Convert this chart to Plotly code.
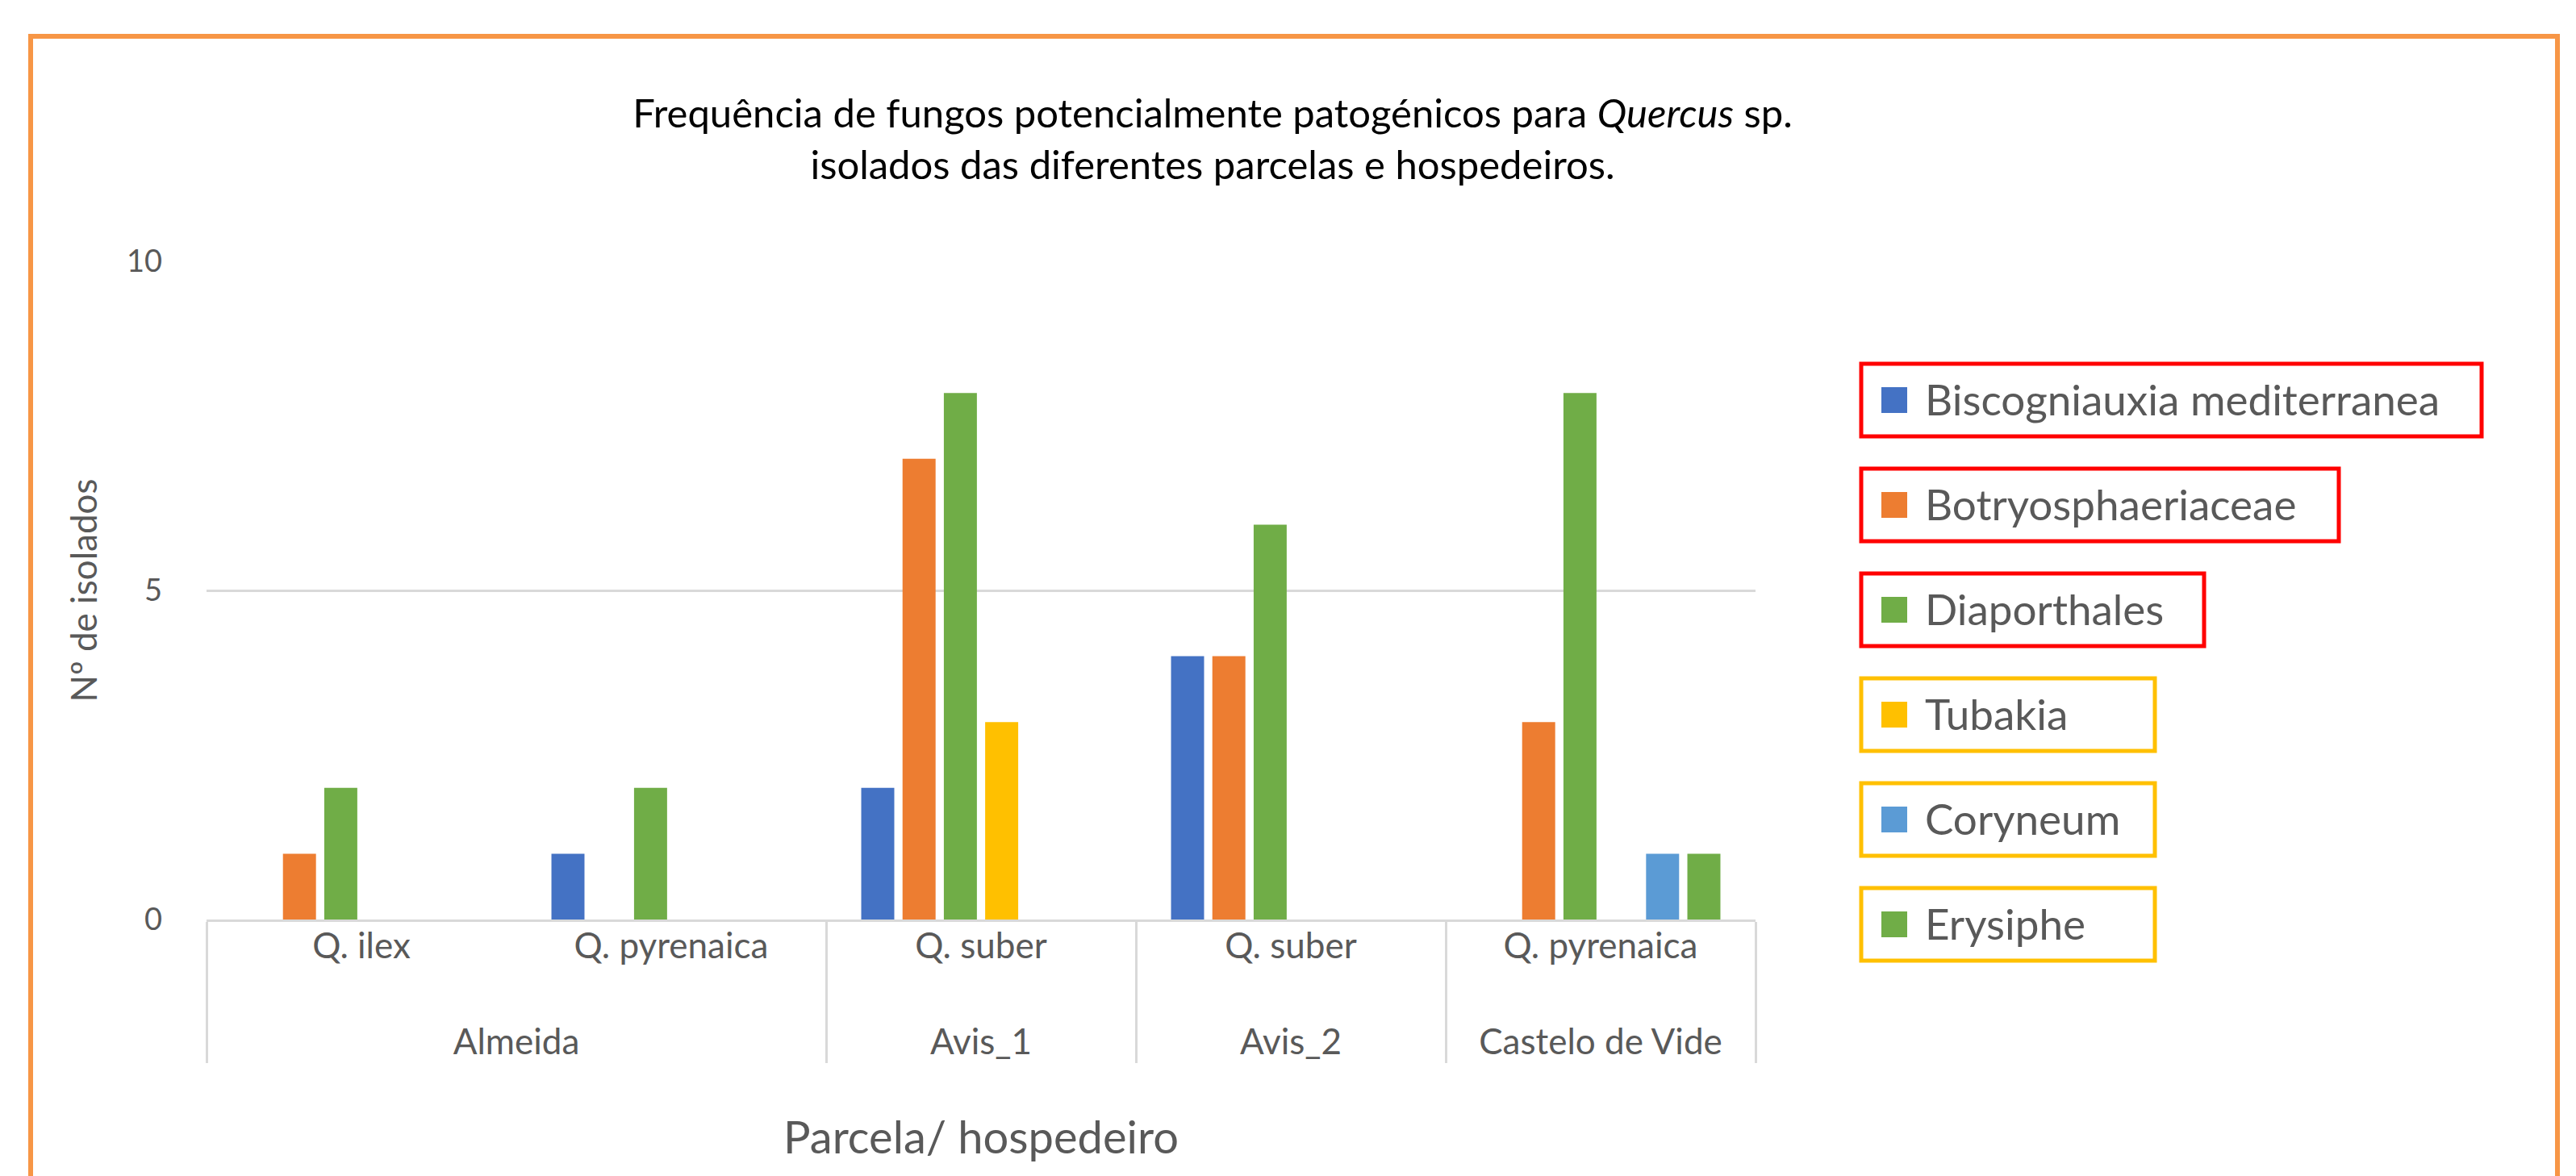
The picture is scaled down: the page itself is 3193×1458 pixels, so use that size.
import plotly.graph_objects as go

# ---- data ----
parcelas = ["Almeida", "Almeida", "Avis_1", "Avis_2", "Castelo de Vide"]
hospedeiros = ["Q. ilex", "Q. pyrenaica", "Q. suber", "Q. suber", "Q. pyrenaica"]

series_names = ["Biscogniauxia mediterranea", "Botryosphaeriaceae", "Diaporthales",
                "Tubakia", "Coryneum", "Erysiphe"]
biscogniauxia = [None, 1, 2, 4, None]
botryosphaeriaceae = [1, None, 7, 4, 3]
diaporthales = [2, 2, 8, 6, 8]
tubakia = [None, None, 3, None, None]
coryneum = [None, None, None, None, 1]
erysiphe = [None, None, None, None, 1]
series_values = [biscogniauxia, botryosphaeriaceae, diaporthales, tubakia, coryneum, erysiphe]

colors = ["#4472C4", "#ED7D31", "#70AD47", "#FFC000", "#5B9BD5", "#70AD47"]
box_colors = ["#FF0000", "#FF0000", "#FF0000", "#FFC000", "#FFC000", "#FFC000"]
y_ticks = [0, 5, 10]

# ---- geometry (pixels) ----
W, H = 3193, 1458
L, R, T, B = 248, 2168, 316, 1132
FONT = "Lato"
GREY = "#595959"


def px_x(x):
    return (x - L) / (R - L)


def px_y(y):
    return (B - y) / (B - T)


# inner labels get an empty second line so the outer row sits lower (as in the original)
inner_labels = [h + "<br> " for h in hospedeiros]

fig = go.Figure()
for name, vals, col in zip(series_names, series_values, colors):
    fig.add_trace(go.Bar(
        x=[parcelas, inner_labels], y=vals, name=name,
        marker=dict(color=col, line=dict(width=0)),
        showlegend=False,
    ))

shapes = []
annotations = []

# orange frame
shapes.append(dict(type="rect", xref="paper", yref="paper",
                   x0=px_x(30), x1=px_x(3162), y0=px_y(1500), y1=px_y(37),
                   line=dict(color="#F79646", width=6), fillcolor="rgba(0,0,0,0)",
                   layer="below"))

# custom legend
box_right = [3068, 2891, 2724, 2663, 2663, 2663]
for i, (name, col, bcol) in enumerate(zip(series_names, colors, box_colors)):
    cy = 488 + 130 * i
    shapes.append(dict(type="rect", xref="paper", yref="paper",
                       x0=px_x(2299), x1=px_x(box_right[i]),
                       y0=px_y(cy + 45), y1=px_y(cy - 45),
                       line=dict(color=bcol, width=5), fillcolor="rgba(0,0,0,0)"))
    shapes.append(dict(type="rect", xref="paper", yref="paper",
                       x0=px_x(2324), x1=px_x(2356),
                       y0=px_y(cy + 16), y1=px_y(cy - 16),
                       line=dict(width=0), fillcolor=col))
    annotations.append(dict(xref="paper", yref="paper", x=px_x(2376), y=px_y(cy - 2),
                            xanchor="left", yanchor="middle", showarrow=False,
                            text=name, font=dict(family=FONT, size=53, color=GREY)))

fig.update_layout(
    width=W, height=H,
    margin=dict(l=L, r=W - R, t=T, b=H - B, autoexpand=False),
    paper_bgcolor="white", plot_bgcolor="white",
    barmode="group", bargap=0.2, bargroupgap=0.2,
    title=dict(
        text="Frequência de fungos potencialmente patogénicos para <i>Quercus</i> sp.<br>"
             "isolados das diferentes parcelas e hospedeiros.",
        x=1495 / W, xanchor="center", xref="container",
        y=1 - 150 / H, yanchor="middle", yref="container",
        font=dict(family=FONT, size=49, color="black"),
    ),
    xaxis=dict(
        type="multicategory",
        showline=True, linecolor="#D9D9D9", linewidth=3,
        showdividers=True, dividercolor="#D9D9D9", dividerwidth=3,
        tickfont=dict(family=FONT, size=44, color=GREY),
        ticklabelstandoff=-8,
        ticks="", showgrid=False,
        title=dict(text="Parcela/ hospedeiro", standoff=76,
                   font=dict(family=FONT, size=56, color=GREY)),
    ),
    yaxis=dict(
        range=[0, 10], tickvals=y_ticks,
        showgrid=True, gridcolor="#D9D9D9", gridwidth=3,
        zeroline=False, showline=False, ticks="",
        ticklabelstandoff=54,
        tickfont=dict(family=FONT, size=38, color=GREY),
        title=dict(text="Nº de isolados", standoff=22,
                   font=dict(family=FONT, size=44, color=GREY)),
    ),
    shapes=shapes, annotations=annotations,
    font=dict(family=FONT, color=GREY),
)

fig.write_html("out.html")
